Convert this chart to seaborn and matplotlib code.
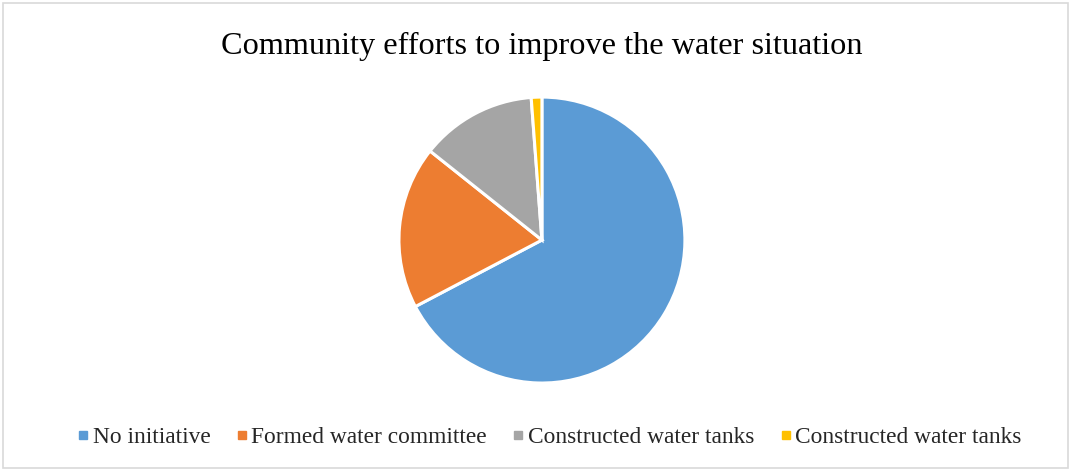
import matplotlib
matplotlib.use("Agg")
import matplotlib.pyplot as plt
from matplotlib.patches import Rectangle
from matplotlib.lines import Line2D
import seaborn as sns

labels = ["No initiative", "Formed water committee", "Constructed water tanks", "Constructed water tanks"]
values = [67.3, 18.4, 13.1, 1.2]
colors = ["#5b9bd5", "#ed7d31", "#a5a5a5", "#ffc000"]
title = "Community efforts to improve the water situation"

sns.set_theme(style="white")
plt.rcParams['font.family'] = ['Liberation Serif', 'DejaVu Serif']

fig = plt.figure(figsize=(10.71, 4.70), dpi=100)
fig.patch.set_facecolor("white")
fig.patches.append(Rectangle((0.003, 0.004), 0.994, 0.99, transform=fig.transFigure,
                             fill=False, edgecolor="#d9d9d9", linewidth=1.2))

ax = fig.add_axes([0.3725, 0.185, 0.267, 0.6085])
wedges, _ = ax.pie(values, colors=colors, startangle=90, counterclock=False,
                   wedgeprops=dict(edgecolor="white", linewidth=2.2))
ax.set_xlim(-1.0, 1.0)
ax.set_ylim(-1.0, 1.0)
ax.set_aspect("equal")

fig.text(0.506, 0.902, title, ha="center", va="center", fontsize=23.2, color="#000000")

handles = [Line2D([0], [0], marker="s", linestyle="none", markersize=6,
                  markerfacecolor=c, markeredgecolor=c) for c in colors]
fig.legend(handles, labels, loc="center", bbox_to_anchor=(0.512, 0.07), ncol=4,
           frameon=False, fontsize=16.8, handletextpad=0.05, columnspacing=1.0,
           handlelength=0.7)

fig.savefig("out.png", dpi=100, facecolor="white")
